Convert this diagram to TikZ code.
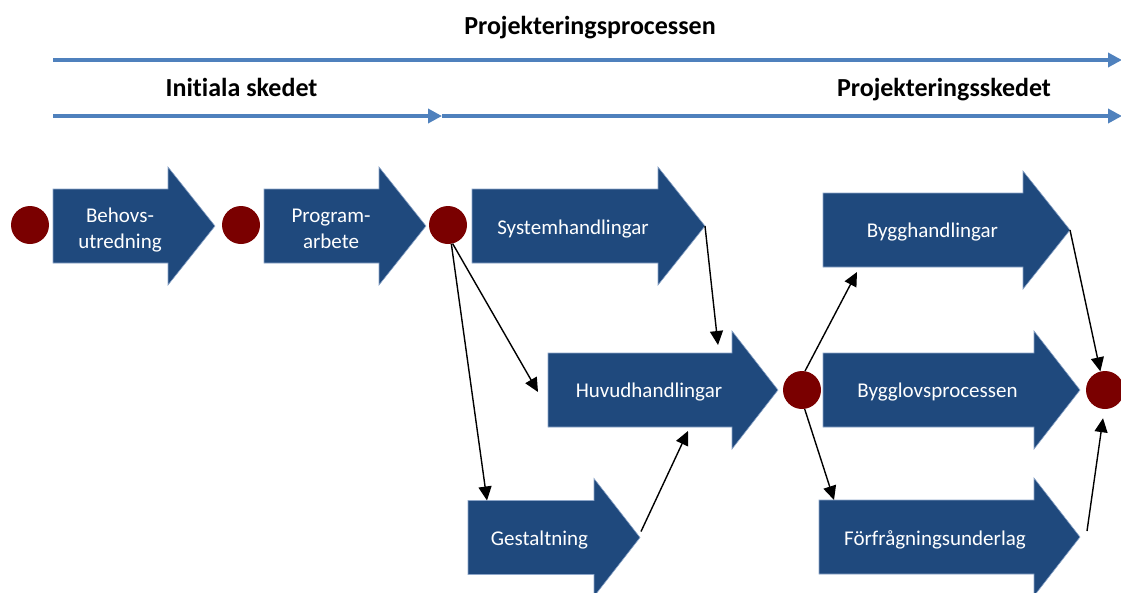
\documentclass[tikz,border=0pt]{standalone}
\usepackage{fontspec}
\setmainfont{Carlito}[Ligatures=NoCommon]
\usetikzlibrary{arrows.meta,calc}

\definecolor{blockblue}{RGB}{31,73,125}
\definecolor{blockedge}{RGB}{140,165,200}
\definecolor{phaseline}{RGB}{79,129,189}
\definecolor{milestonered}{RGB}{122,0,0}

\tikzset{
  blockfill/.style={fill=blockblue, draw=blockedge, line width=0.6pt},
  blocktext/.style={text=white, font=\fontsize{21}{26}\selectfont, align=center, anchor=base, inner sep=0pt},
  heading/.style={font=\fontsize{26}{30}\selectfont\bfseries, anchor=base, inner sep=0pt},
  phase/.style={draw=phaseline, line width=4pt, -{Triangle[length=14pt,width=14pt]}},
  milestone/.style={circle, fill=milestonered, minimum size=38pt, inner sep=0pt},
  link/.style={draw=black, line width=1.4pt, -{Triangle[length=14pt,width=13pt]}}
}

% #1 name, #2 left x, #3 head base x, #4 tip x, #5 centre y, #6 text position (last baseline), #7 text
\newcommand\blockarrow[7]{%
  \fill[blockfill] (#2,#5-37) -- (#3,#5-37) -- (#3,#5-59) -- (#4,#5)
     -- (#3,#5+59) -- (#3,#5+37) -- (#2,#5+37) -- cycle;
  \coordinate (#1-nw) at (#2,#5-37);
  \coordinate (#1-sw) at (#2,#5+37);
  \coordinate (#1-ne) at (#3,#5-37);
  \coordinate (#1-se) at (#3,#5+37);
  \coordinate (#1-w) at (#2,#5);
  \coordinate (#1-tip) at (#4,#5);
  \node[blocktext] (#1) at (#6) {#7};
}

\begin{document}
\begin{tikzpicture}[x=1pt,y=-1pt]
\useasboundingbox (0,0) rectangle (1121,592);

% headings
\node[heading] (title) at (590,34) {Projekteringsprocessen};
\node[heading] (initial) at (241.5,96) {Initiala skedet};
\node[heading] (design) at (944,96) {Projekteringsskedet};

% phase lines
\coordinate (pa0) at (53,60);
\coordinate (pa1) at (1122,60);
\coordinate (pb0) at (53,116);
\coordinate (pb1) at (442,116);
\coordinate (pb2) at (1122,116);
\draw[phase] (pa0) -- (pa1);
\draw[phase] (pb0) -- (pb1);
\draw[phase] (pb1) -- (pb2);

% process steps
\blockarrow{behov}{53}{168}{215}{226}{120,248}{Behovs-\\utredning}
\blockarrow{program}{264}{379}{426}{226}{331,248}{Program-\\arbete}
\blockarrow{system}{472}{658}{705}{226}{573,234}{Systemhandlingar}
\blockarrow{huvud}{548}{732}{778}{390}{649,397}{Huvudhandlingar}
\blockarrow{gestalt}{468}{594}{640}{537.5}{539.5,545}{Gestaltning}
\blockarrow{byggh}{823}{1023}{1070}{230}{932.5,237}{Bygghandlingar}
\blockarrow{bygglov}{823}{1034}{1080}{390}{937.5,397}{Bygglovsprocessen}
\blockarrow{forfr}{819}{1034}{1080}{537}{935,545}{Förfrågningsunderlag}

% milestones
\node[milestone] (c1) at (30,225) {};
\node[milestone] (c2) at (241,225) {};
\node[milestone] (c3) at (448,225) {};
\node[milestone] (c4) at (802,390) {};
\node[milestone] (c5) at (1105,390) {};

% dependencies
\draw[link] (c3.-76) -- ($(huvud-w)+(-10,2)$);
\draw[link] (c3.-80) -- ($(gestalt-nw)+(19,0)$);
\draw[link] (system-tip) -- ($(huvud-ne)+(-14,-8)$);
\draw[link] ($(gestalt-tip)+(1,-6)$) -- ($(huvud-se)+(-44,4)$);
\draw[link] (c4.81) -- ($(byggh-sw)+(34,5)$);
\draw[link] (c4.-82) -- ($(forfr-nw)+(15,0)$);
\draw[link] (byggh-tip) -- (c5.104);
\draw[link] ($(forfr-tip)+(7,-6)$) -- ($(c5.south)+(-2,9)$);
\end{tikzpicture}
\end{document}
